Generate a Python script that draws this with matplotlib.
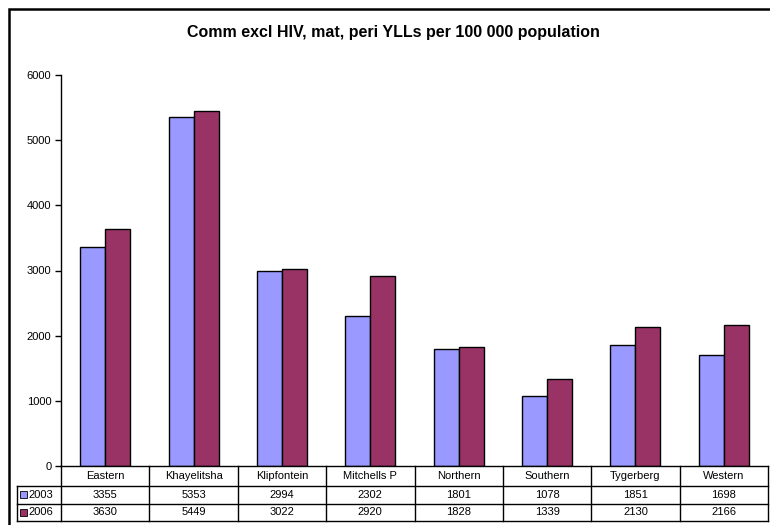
import matplotlib
matplotlib.use("Agg")
import matplotlib.pyplot as plt
from matplotlib.patches import Rectangle
import numpy as np

# datos del grafico
regiones = ["Eastern", "Khayelitsha", "Klipfontein", "Mitchells P", "Northern",
            "Southern", "Tygerberg", "Western"]
series = ["2003", "2006"]
valores_2003 = [3355, 5353, 2994, 2302, 1801, 1078, 1851, 1698]
valores_2006 = [3630, 5449, 3022, 2920, 1828, 1339, 2130, 2166]
colores = ["#9999FF", "#993366"]
titulo = "Comm excl HIV, mat, peri YLLs per 100 000 population"

plt.rcParams['font.family'] = ['Liberation Sans', 'DejaVu Sans']

W, H = 770, 525
fig = plt.figure(figsize=(W / 100, H / 100), dpi=100)

def caja(x0, y0, x1, y1):
    # convierte pixeles (origen arriba-izquierda) a fracciones de figura
    return [x0 / W, 1 - y1 / H, (x1 - x0) / W, (y1 - y0) / H]

# marco exterior (solo se ven el borde izquierdo y el de arriba)
fig.add_artist(Rectangle((9 / W, -0.2), 1.5, 1.2 - 9 / H, transform=fig.transFigure,
                         fill=False, lw=1.8, ec="black"))

ax = fig.add_axes(caja(61, 75, 768, 466))
x = np.arange(len(regiones))
ancho = 0.283
ax.bar(x - ancho / 2, valores_2003, ancho, color=colores[0], edgecolor="black", lw=1)
ax.bar(x + ancho / 2, valores_2006, ancho, color=colores[1], edgecolor="black", lw=1)
ax.set_xlim(-0.5, len(regiones) - 0.5)
ax.set_ylim(0, 6000)
ax.set_yticks(range(0, 6001, 1000))
ax.tick_params(axis="y", labelsize=8, length=4, width=1, pad=3)
ax.set_xticks([])
for lado in ["top", "right", "bottom"]:
    ax.spines[lado].set_visible(False)
ax.spines["left"].set_linewidth(1)

fig.text(393.5 / W, 1 - 33 / H, titulo, ha="center", va="center", fontsize=11.5, fontweight="bold")

# tabla de datos debajo
tab = fig.add_axes(caja(61, 466, 768, 521))
tab.set_xlim(-0.5, len(regiones) - 0.5)
tab.set_ylim(55, 0)
tab.axis("off")
lw = 1
bordes = [0, 20, 37.5, 55]
tab.plot([-0.5, 7.5], [0, 0], color="black", lw=lw, clip_on=False)
for yb in bordes[1:]:
    tab.plot([-1.0, 7.5], [yb, yb], color="black", lw=lw, clip_on=False)
tab.plot([-1.0, -1.0], [20, 55], color="black", lw=lw, clip_on=False)
for xb in np.arange(-0.5, len(regiones), 1.0):
    tab.plot([xb, xb], [0, 55], color="black", lw=lw, clip_on=False)

for i, reg in enumerate(regiones):
    tab.text(i, 10, reg, ha="center", va="center", fontsize=8)
    tab.text(i, 28.75, str(valores_2003[i]), ha="center", va="center", fontsize=8)
    tab.text(i, 46.25, str(valores_2006[i]), ha="center", va="center", fontsize=8)

for j, (s, c) in enumerate(zip(series, colores)):
    yc = 28.75 + j * 17.5
    tab.add_patch(Rectangle((-0.965, yc - 3.5), 0.085, 7, facecolor=c, edgecolor="black",
                            lw=0.6, clip_on=False))
    tab.text(-0.87, yc, s, ha="left", va="center", fontsize=8)

fig.savefig("out.png", dpi=100)
